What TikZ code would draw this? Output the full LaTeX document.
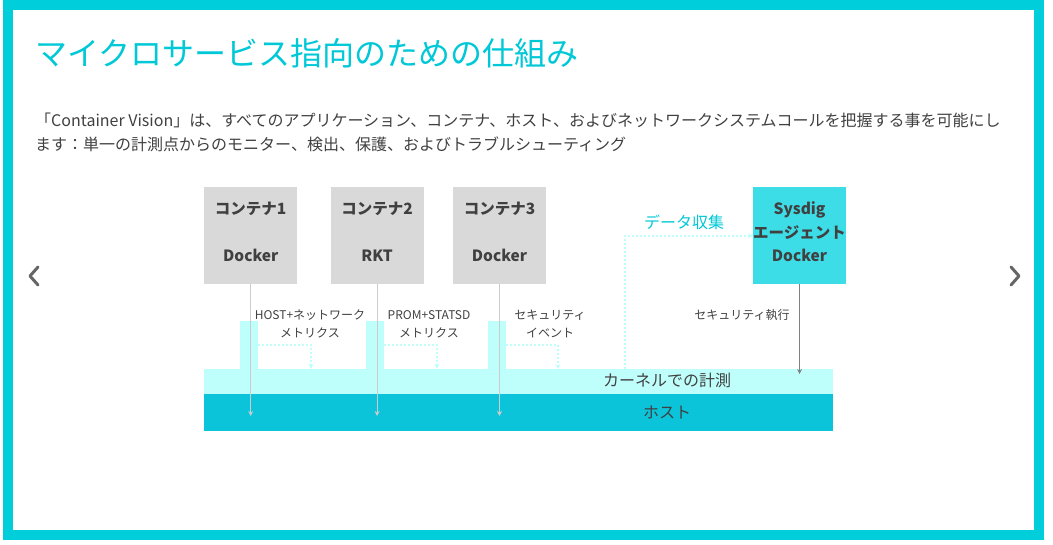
\documentclass[tikz,border=0pt]{standalone}
\usepackage{fontspec}
\setmainfont{Noto Sans CJK JP}
\usetikzlibrary{arrows.meta,positioning}
\definecolor{framecyan}{RGB}{0,206,219}
\definecolor{titlecyan}{RGB}{0,200,215}
\definecolor{hostcyan}{RGB}{11,196,217}
\definecolor{kernelcyan}{RGB}{191,255,251}
\definecolor{agentcyan}{RGB}{61,221,232}
\definecolor{boxgray}{RGB}{217,217,217}
\definecolor{textgray}{RGB}{64,64,64}
\definecolor{linegray}{RGB}{204,204,204}
\definecolor{arrowgray}{RGB}{128,128,128}
\definecolor{chevgray}{RGB}{102,102,102}

\tikzset{
  cbox/.style={fill=boxgray, inner sep=0, minimum width=93pt, minimum height=97pt,
               align=center, text=textgray, text depth=8pt,
               font=\bfseries\fontsize{15.5}{23.5}\selectfont},
  tapbar/.style={fill=kernelcyan, inner sep=0, minimum width=18pt, minimum height=48pt},
  smalllabel/.style={align=center, text=textgray, inner sep=0,
                     font=\fontsize{12}{18}\selectfont},
  dotline/.style={kernelcyan, line width=2pt, dash pattern=on 2pt off 2pt},
}

\begin{document}
\begin{tikzpicture}[x=1pt, y=-1pt, >={Stealth[length=5pt,width=5pt]}]
\useasboundingbox (0,0) rectangle (1053,545);
\draw[framecyan, line width=10pt] (8,5) rectangle (1039,535);

\node[anchor=west, inner sep=0, text=titlecyan,
      font=\fontsize{32}{32}\selectfont] (title) at (35,53) {マイクロサービス指向のための仕組み};
\node[anchor=west, inner sep=0, text=textgray,
      font=\fontsize{16}{16}\selectfont] (intro1) at (35,120)
  {「Container Vision」は、すべてのアプリケーション、コンテナ、ホスト、およびネットワークシステムコールを把握する事を可能にし};
\node[anchor=west, inner sep=0, text=textgray,
      font=\fontsize{16}{16}\selectfont] (intro2) at (35,144)
  {ます：単一の計測点からのモニター、検出、保護、およびトラブルシューティング};

% containers
\node[cbox, anchor=north west] (box1) at (204,187) {コンテナ1\\\mbox{}\\Docker};
\node[cbox, right=33pt of box1] (box2) {コンテナ2\\\mbox{}\\RKT};
\node[cbox, right=29pt of box2] (box3) {コンテナ3\\\mbox{}\\Docker};
\node[cbox, fill=agentcyan, minimum width=90pt, anchor=north west] (agent) at (753,187)
  {Sysdig\\エージェント\\Docker};

% kernel and host
\node[fill=hostcyan, inner sep=0, minimum width=629pt, minimum height=37pt,
      anchor=north west] (host) at (204,394) {};
\node[fill=kernelcyan, inner sep=0, minimum width=629pt, minimum height=25pt,
      anchor=south west] (kernel) at (host.north west) {};
\node[text=textgray, font=\fontsize{16}{16}\selectfont] (kerneltext) at (667,380) {カーネルでの計測};
\node[text=textgray, font=\fontsize{16}{16}\selectfont] (hosttext) at (667,412) {ホスト};

\node[tapbar, anchor=south west] (bar1) at (240,369) {};
\node[tapbar, anchor=south west] (bar2) at (366,369) {};
\node[tapbar, anchor=south west] (bar3) at (488,369) {};

\coordinate (hostmid) at (0,416);
\coordinate (tap1) at (311,369);
\coordinate (tap2) at (437,369);
\coordinate (tap3) at (558,369);
\coordinate (collect) at (625,369);
\coordinate (kernelmid) at (0,374);
\coordinate (enforce) at (agent.south |- kernelmid);

% metrics
\draw[linegray, line width=1.2pt, ->] (box1.south) -- (box1.south |- hostmid);
\draw[linegray, line width=1.2pt, ->] (box2.south) -- (box2.south |- hostmid);
\draw[linegray, line width=1.2pt, ->] (box3.south) -- (box3.south |- hostmid);
\draw[dotline, ->] (bar1.east) -| (tap1);
\draw[dotline, ->] (bar2.east) -| (tap2);
\draw[dotline, ->] (bar3.east) -| (tap3);
\node[smalllabel] (label1) at (310,324) {HOST+ネットワーク\\メトリクス};
\node[smalllabel] (label2) at (429,324) {PROM+STATSD\\メトリクス};
\node[smalllabel] (label3) at (550,324) {セキュリティ\\イベント};

% agent
\draw[dotline, ->] (collect) |- (agent.west);
\node[text=titlecyan, font=\fontsize{16}{16}\selectfont] (collecttext) at (684,222) {データ収集};
\draw[arrowgray, line width=1.5pt, ->] (agent.south) -- (enforce);
\node[smalllabel] (label4) at (742,315) {セキュリティ執行};

% arrows left/right
\draw[chevgray, line width=3pt, line cap=round, line join=round]
  (38,267) -- (30,276) -- (38,285);
\draw[chevgray, line width=3pt, line cap=round, line join=round]
  (1011,267) -- (1019,276) -- (1011,285);
\end{tikzpicture}
\end{document}
